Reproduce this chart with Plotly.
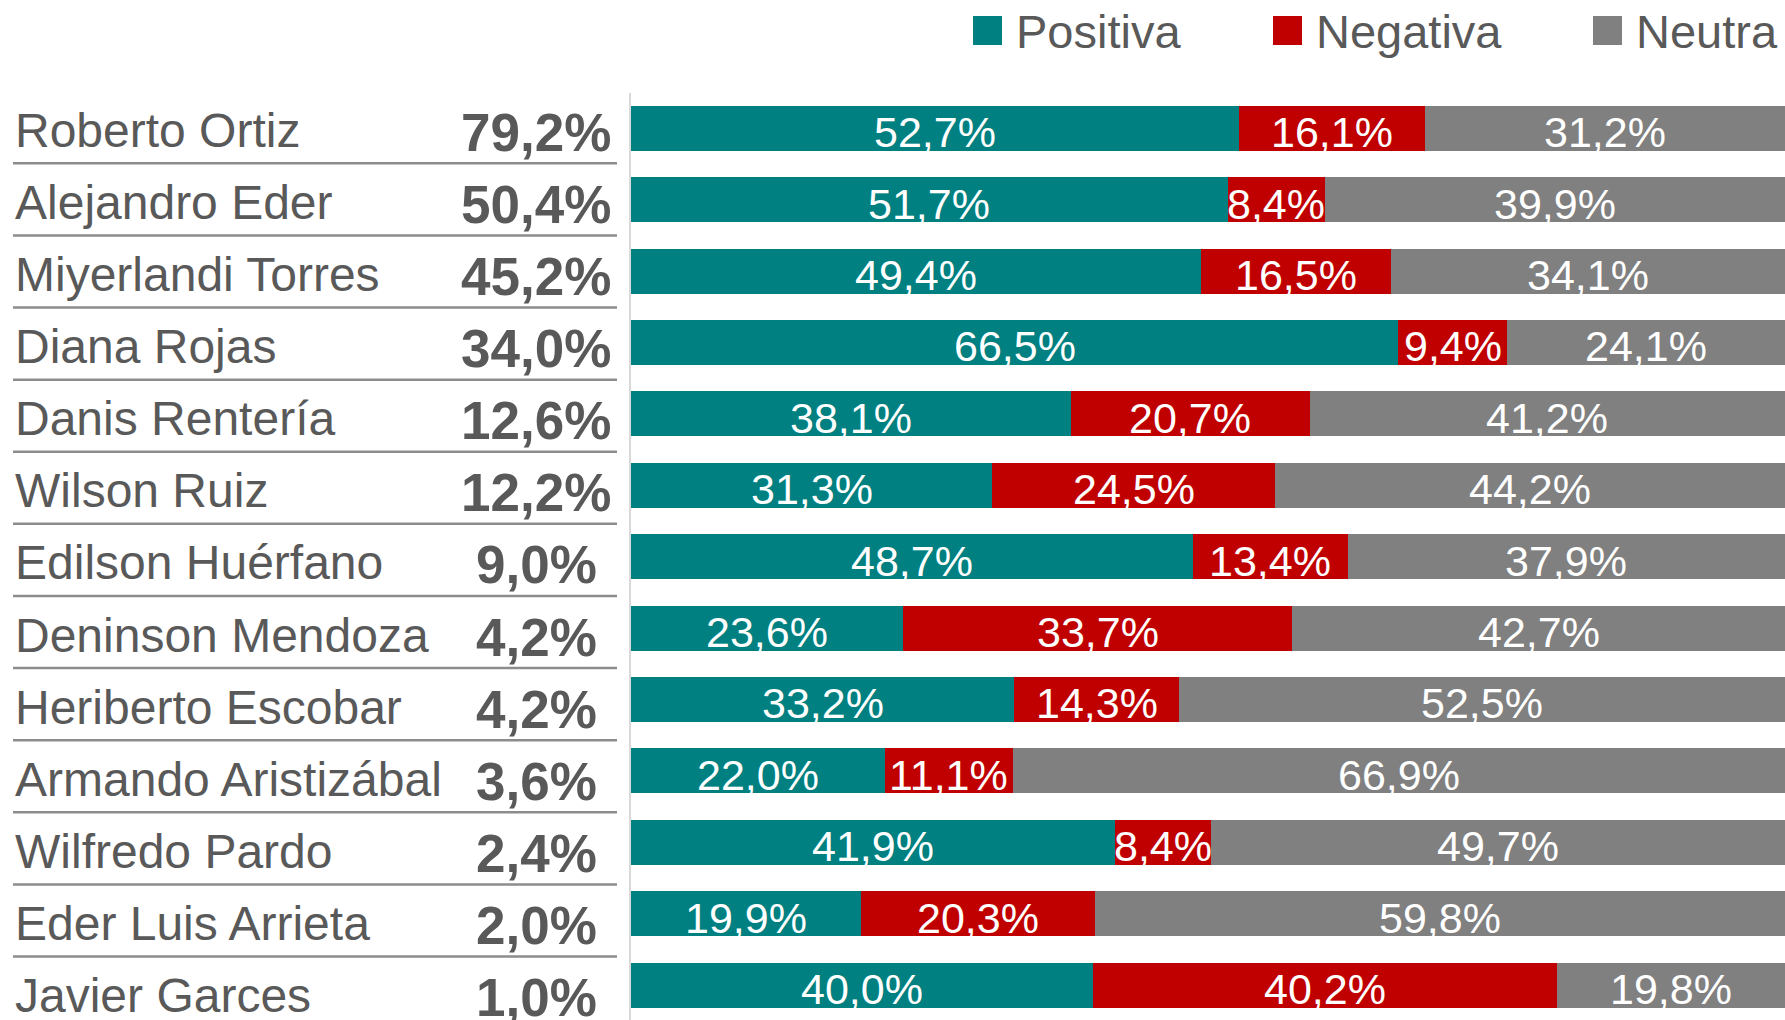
import plotly.graph_objects as go

candidates = [
    "Roberto Ortiz", "Alejandro Eder", "Miyerlandi Torres", "Diana Rojas",
    "Danis Rentería", "Wilson Ruiz", "Edilson Huérfano", "Deninson Mendoza",
    "Heriberto Escobar", "Armando Aristizábal", "Wilfredo Pardo",
    "Eder Luis Arrieta", "Javier Garces",
]
totals = [79.2, 50.4, 45.2, 34.0, 12.6, 12.2, 9.0, 4.2, 4.2, 3.6, 2.4, 2.0, 1.0]
positiva = [52.7, 51.7, 49.4, 66.5, 38.1, 31.3, 48.7, 23.6, 33.2, 22.0, 41.9, 19.9, 40.0]
negativa = [16.1, 8.4, 16.5, 9.4, 20.7, 24.5, 13.4, 33.7, 14.3, 11.1, 8.4, 20.3, 40.2]
neutra = [31.2, 39.9, 34.1, 24.1, 41.2, 44.2, 37.9, 42.7, 52.5, 66.9, 49.7, 59.8, 19.8]
series_names = ["Positiva", "Negativa", "Neutra"]
series_colors = ["#008080", "#C00000", "#808080"]

FONT = "Liberation Sans, Arial, sans-serif"
W, H = 1785, 1020
TOP = 93


def fmt(v):
    return f"{v:.1f}".replace(".", ",") + "%"


rows = list(range(len(candidates)))
fig = go.Figure()
annotations = []

series_vals = [positiva, negativa, neutra]
for name, vals, col in zip(series_names, series_vals, series_colors):
    fig.add_trace(go.Bar(
        y=rows, x=vals, orientation="h", name=name,
        marker=dict(color=col, line=dict(width=0)), width=0.63,
        xaxis="x", yaxis="y", showlegend=False, hoverinfo="skip",
    ))

# segment labels, centred in each stacked segment (positions from data)
for r in rows:
    start = 0.0
    for vals in series_vals:
        v = vals[r]
        annotations.append(dict(
            xref="x", yref="y", x=start + v / 2, y=r, text=fmt(v),
            showarrow=False, xanchor="center", yanchor="middle", yshift=-4,
            font=dict(color="white", size=43, family=FONT),
        ))
        start += v

# left table: names and totals
for r in rows:
    annotations.append(dict(
        xref="x2", yref="y2", x=13, y=r, text=candidates[r], showarrow=False,
        xanchor="left", yanchor="middle", yshift=-3,
        font=dict(size=48, color="#595959", family=FONT),
    ))
    annotations.append(dict(
        xref="x2", yref="y2", x=536, y=r, text="<b>" + fmt(totals[r]) + "</b>",
        showarrow=False, xanchor="center", yanchor="middle", yshift=-5,
        font=dict(size=53, color="#595959", family=FONT),
    ))

# invisible trace so the table axes exist
fig.add_trace(go.Scatter(x=[0], y=[0], mode="markers", marker=dict(opacity=0),
                         xaxis="x2", yaxis="y2", showlegend=False, hoverinfo="skip"))

shapes = []
for i in rows[:-1]:
    shapes.append(dict(type="line", xref="x2", yref="y2", x0=13, x1=617,
                       y0=i + 0.5, y1=i + 0.5,
                       line=dict(color="#8c8c8c", width=2.5)))

# manual legend
legend_x = [973, 1273, 1593]
for name, col, lx in zip(series_names, series_colors, legend_x):
    shapes.append(dict(type="rect", xref="paper", yref="paper",
                       xsizemode="pixel", ysizemode="pixel",
                       xanchor=lx / W, yanchor=1,
                       x0=0, x1=29, y0=TOP - 45, y1=TOP - 16,
                       fillcolor=col, line=dict(width=0)))
    annotations.append(dict(xref="paper", yref="paper", x=(lx + 41) / W, y=1,
                            xanchor="left", yanchor="middle", yshift=TOP - 31,
                            text=name, showarrow=False,
                            font=dict(size=47, color="#595959", family=FONT)))

fig.update_layout(
    width=W, height=H,
    margin=dict(l=0, r=0, t=TOP, b=0),
    paper_bgcolor="white", plot_bgcolor="white",
    barmode="stack",
    xaxis=dict(domain=[631 / W, 1], range=[0, 100], showgrid=False,
               zeroline=False, showticklabels=False, showline=False, fixedrange=True),
    yaxis=dict(range=[12.489, -0.494], showgrid=False, zeroline=False,
               showticklabels=False, ticks="", showline=True,
               linecolor="#d9d9d9", linewidth=2),
    xaxis2=dict(domain=[0, 625 / W], range=[0, 625], anchor="y2", visible=False),
    yaxis2=dict(domain=[0, 1], range=[12.381, -0.476], anchor="x2", visible=False),
    shapes=shapes, annotations=annotations,
)

fig.write_html("out.html", config={"displayModeBar": False, "staticPlot": True},
               post_script="document.body.style.margin='0';document.body.style.overflow='hidden';")
